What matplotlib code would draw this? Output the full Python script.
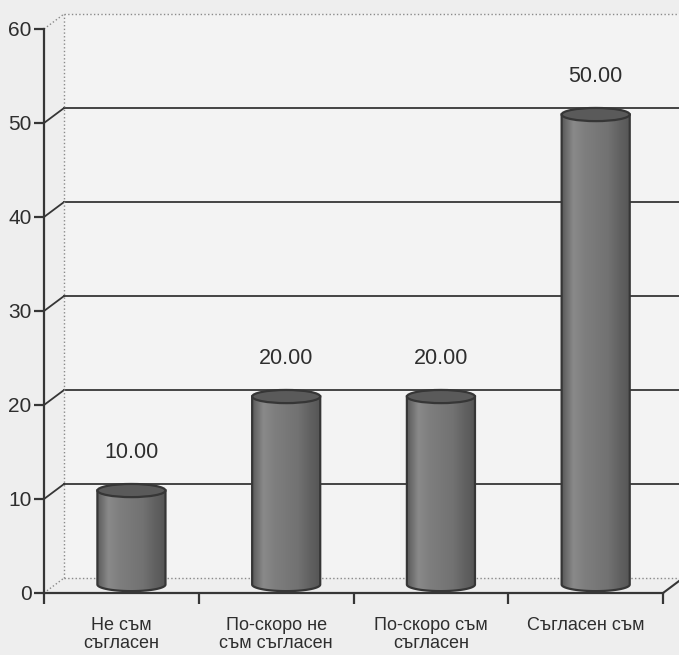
import numpy as np
import matplotlib
matplotlib.use('Agg')
import matplotlib.pyplot as plt
from matplotlib.patches import Polygon, Ellipse, PathPatch
from matplotlib.path import Path
from matplotlib.colors import LinearSegmentedColormap

# data
categories = ['Не съм\nсъгласен', 'По-скоро не\nсъм съгласен',
              'По-скоро съм\nсъгласен', 'Съгласен съм']
values = [10.0, 20.0, 20.0, 50.0]
yticks = [0, 10, 20, 30, 40, 50, 60]

plt.rcParams['font.family'] = ['Liberation Sans', 'DejaVu Sans']
dark = '#363636'
txt = '#2e2e2e'

fig = plt.figure(figsize=(6.79, 6.55), dpi=100, facecolor='#eeeeee')
ax = fig.add_axes([44/679, 62/655, 619/679, 564/655])
ax.set_facecolor('none')
ax.set_xlim(-0.5, 3.5)
ax.set_ylim(0, 60)

# 3d depth offsets (category units / value units)
dx, dy = 0.13, 1.6
x0, x1 = -0.5, 3.5
ymax = yticks[-1]

# back wall
wall = Polygon([(x0 + dx, dy), (x1 + dx, dy), (x1 + dx, ymax + dy), (x0 + dx, ymax + dy)],
               closed=True, fc='#f3f3f3', ec='none', zorder=0, clip_on=False)
ax.add_patch(wall)

# gridlines on back wall + connectors to the front axis
for v in yticks:
    if v in (0, ymax):
        ax.plot([x0 + dx, x1 + dx], [v + dy, v + dy], color='#8a8a8a', lw=1, ls=':',
                clip_on=False, zorder=1)
        ax.plot([x0, x0 + dx], [v, v + dy], color='#8a8a8a', lw=1, ls=':',
                clip_on=False, zorder=1)
    else:
        ax.plot([x0 + dx, x1 + dx], [v + dy, v + dy], color=dark, lw=1.3,
                clip_on=False, zorder=1)
        ax.plot([x0, x0 + dx], [v, v + dy], color=dark, lw=1.3, clip_on=False, zorder=1)
ax.plot([x0 + dx, x0 + dx], [dy, ymax + dy], color='#8a8a8a', lw=1, ls=':',
        clip_on=False, zorder=1)
ax.plot([x1, x1 + dx], [0, dy], color=dark, lw=1.5, clip_on=False, zorder=1)

# cylinders
cmap = LinearSegmentedColormap.from_list(
    'cyl', ['#5a5a5a', '#8a8a8a', '#7e7e7e', '#787878', '#727272', '#626262', '#555555'])
grad = np.linspace(0, 1, 256).reshape(1, -1)
w = 0.44
eh = 1.4
yc = 0.9
for i, v in enumerate(values):
    c = i + dx / 2
    top = v + yc
    t = np.linspace(np.pi, 2 * np.pi, 40)
    arc = np.column_stack([c + w / 2 * np.cos(t), yc + eh / 2 * np.sin(t)])
    verts = np.vstack([[c - w / 2, top], arc, [c + w / 2, top], [c - w / 2, top]])
    body = Path(verts, closed=True)
    im = ax.imshow(grad, cmap=cmap, aspect='auto', interpolation='bicubic',
                   extent=[c - w / 2, c + w / 2, yc - eh / 2, top], zorder=3)
    patch = PathPatch(body, fc='none', ec=dark, lw=1.6, zorder=4)
    ax.add_patch(patch)
    im.set_clip_path(patch)
    ax.add_patch(Ellipse((c, top), w, eh, fc='#5a5a5a', ec=dark, lw=1.6, zorder=5))
    ax.annotate(f'{v:.2f}', (c, top + eh / 2), xytext=(0, 15), textcoords='offset points',
                ha='center', va='bottom', fontsize=15.5, color=txt, zorder=6)

ax.set_xlim(-0.5, 3.5)
ax.set_ylim(0, 60)

# axes
for s in ['top', 'right']:
    ax.spines[s].set_visible(False)
for s in ['left', 'bottom']:
    ax.spines[s].set_color(dark)
    ax.spines[s].set_linewidth(1.6)
ax.set_yticks(yticks)
ax.tick_params(axis='y', direction='out', length=7, width=1.6, color=dark,
               labelsize=15, labelcolor=txt, pad=2)
ax.set_xticks(np.arange(-0.5, 4, 1.0))
ax.set_xticklabels([])
ax.tick_params(axis='x', which='major', direction='out', length=8, width=1.6, color=dark)
ax.set_xticks(np.arange(len(categories)), minor=True)
ax.set_xticklabels(categories, minor=True, fontsize=13, color=txt, linespacing=1.1)
ax.tick_params(axis='x', which='minor', length=0, pad=17)

fig.savefig('out.png', dpi=100, facecolor=fig.get_facecolor())
